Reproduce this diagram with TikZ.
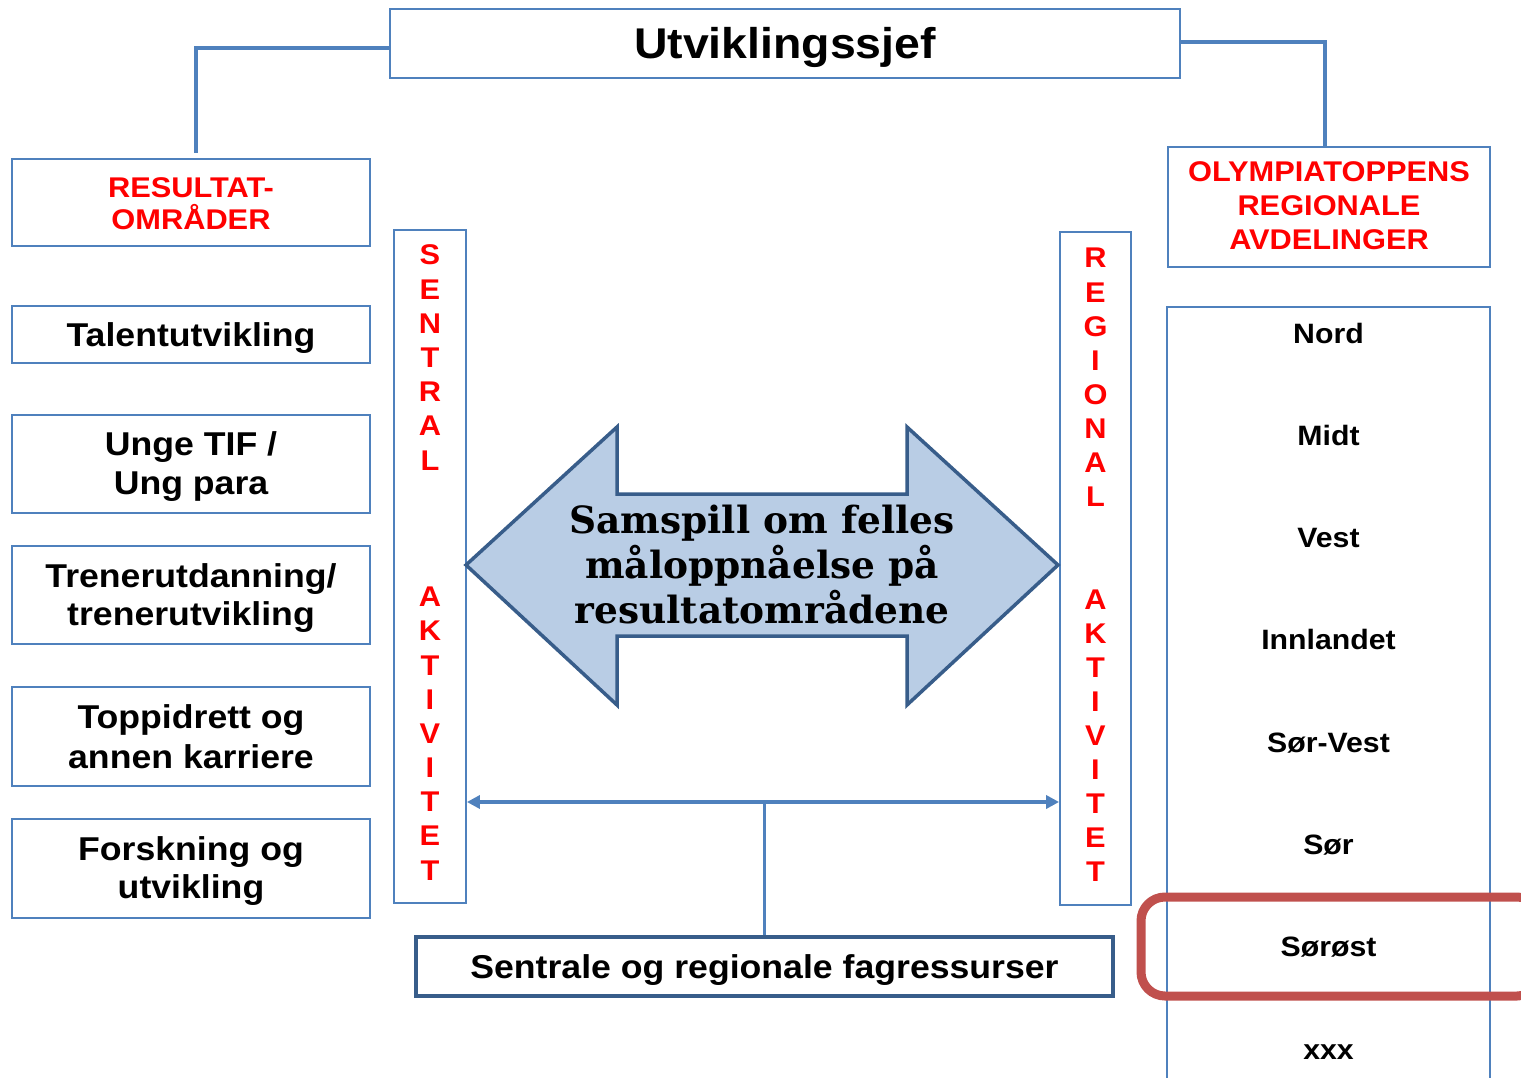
\documentclass[tikz,border=0pt]{standalone}
\usepackage{fontspec}
\newfontfamily\lsans[FakeStretch=1.08]{Liberation Sans}
\newfontfamily\dserif{DejaVu Serif}
\usetikzlibrary{arrows.meta}
\definecolor{obl}{HTML}{4F81BD}
\definecolor{dbl}{HTML}{385D8A}
\definecolor{afill}{HTML}{B9CDE5}
\definecolor{rred}{HTML}{C0504D}
\definecolor{tred}{HTML}{FF0000}
\tikzset{
  box/.style={draw=obl, line width=2.8pt, inner sep=0pt},
  vcol/.style={draw=obl, line width=1.8pt, inner sep=0pt, minimum height=673pt},
  lbl/.style={font=\lsans\bfseries\fontsize{33}{40}\selectfont, text=black, inner sep=0pt, anchor=base},
  bigl/.style={font=\lsans\bfseries\fontsize{43}{50}\selectfont, text=black, inner sep=0pt, anchor=base},
  redl/.style={font=\lsans\bfseries\fontsize{28.5}{32}\selectfont, text=tred, inner sep=0pt, anchor=base},
  regl/.style={font=\lsans\bfseries\fontsize{28}{32}\selectfont, text=black, inner sep=0pt, anchor=base},
  serl/.style={font=\dserif\bfseries\fontsize{37.5}{45}\selectfont, text=black, inner sep=0pt, anchor=base},
  conn/.style={draw=obl, line width=4.5pt},
}
\begin{document}
\begin{tikzpicture}[x=1pt,y=-1pt]
\useasboundingbox (0,0) rectangle (1521,1078);
\clip (0,0) rectangle (1521,1078);

% top box
\node[box, minimum width=790pt, minimum height=69pt] (chief) at (785,43.5) {};
\node[bigl] (chieft) at (785,59) {Utviklingssjef};

% left column
\node[box, minimum width=358pt, minimum height=87pt] (res) at (191,202.5) {};
\node[redl] (res1) at (191,198) {RESULTAT-};
\node[redl] (res2) at (191,230) {OMRÅDER};

\node[box, minimum width=358pt, minimum height=57pt] (tal) at (191,334.5) {};
\node[lbl] (tal1) at (191,346) {Talentutvikling};

\node[box, minimum width=358pt, minimum height=98pt] (ung) at (191,464) {};
\node[lbl] (ung1) at (191,455) {Unge TIF /};
\node[lbl] (ung2) at (191,494) {Ung para};

\node[box, minimum width=358pt, minimum height=98pt] (tre) at (191,595) {};
\node[lbl] (tre1) at (191,587) {Trenerutdanning/};
\node[lbl] (tre2) at (191,625) {trenerutvikling};

\node[box, minimum width=358pt, minimum height=99pt] (topp) at (191,736.5) {};
\node[lbl] (topp1) at (191,728) {Toppidrett og};
\node[lbl] (topp2) at (191,768) {annen karriere};

\node[box, minimum width=358pt, minimum height=99pt] (forsk) at (191,868.5) {};
\node[lbl] (forsk1) at (191,860) {Forskning og};
\node[lbl] (forsk2) at (191,898) {utvikling};

% right column
\node[box, minimum width=322pt, minimum height=120pt] (olym) at (1329,207) {};
\node[redl] (olym1) at (1329,182) {OLYMPIATOPPENS};
\node[redl] (olym2) at (1329,216) {REGIONALE};
\node[redl] (olym3) at (1329,250) {AVDELINGER};

\node[box, line width=2.4pt, minimum width=323pt, minimum height=793pt] (regs) at (1328.5,703.5) {};
\foreach \t [count=\i from 0] in {Nord,Midt,Vest,Innlandet,Sør-Vest,Sør,Sørøst,xxx}
  \node[regl] (reg\i) at (1328.5,{343+102.3*\i}) {\t};

% vertical columns
\node[vcol, minimum width=72pt] (sent) at (430,566.5) {};
\foreach \c [count=\i from 0] in {S,E,N,T,R,A,L}
  \node[redl] (sa\i) at (430,{265+34.17*\i}) {\c};
\foreach \c [count=\i from 10] in {A,K,T,I,V,I,T,E,T}
  \node[redl] (sb\i) at (430,{265+34.17*\i}) {\c};

\node[vcol, minimum width=71pt] (regl) at (1095.5,568.5) {};
\foreach \c [count=\i from 0] in {R,E,G,I,O,N,A,L}
  \node[redl] (ra\i) at (1095.5,{268+34.1*\i}) {\c};
\foreach \c [count=\i from 10] in {A,K,T,I,V,I,T,E,T}
  \node[redl] (rb\i) at (1095.5,{268+34.1*\i}) {\c};

% connectors from top
\draw[conn] ([yshift=-4.5pt]chief.west) -| ([xshift=5pt,yshift=5pt]res.north);
\draw[conn] ([yshift=1.5pt]chief.east) -| ([xshift=-4pt]olym.north);

% big double arrow
\coordinate (atl) at (466,565);
\coordinate (atr) at (1058,565);
\draw[draw=dbl, fill=afill, line width=3.5pt, line join=miter]
  (atl) -- (617,427) -- (617,494) -- (907,494) -- (907,427) -- (atr)
  -- (907,705) -- (907,636) -- (617,636) -- (617,705) -- cycle;
\node[serl] (s1) at (762,533) {Samspill om felles};
\node[serl] (s2) at (762,578) {måloppnåelse på};
\node[serl] (s3) at (762,623) {resultatområdene};

% bottom box and arrows
\node[draw=dbl, line width=4.5pt, inner sep=0pt, minimum width=697pt, minimum height=59pt] (fag) at (764.5,966.5) {};
\node[lbl] (fag1) at (764.5,978) {Sentrale og regionale fagressurser};
\coordinate (mid) at (764.5,802);
\draw[conn, line width=4pt, {Triangle[length=13pt,width=13pt]}-{Triangle[length=13pt,width=13pt]}]
  (sent.east |- mid) -- (regl.west |- mid);
\draw[conn, line width=3.5pt] (mid) -- (fag.north);

% highlight
\node[draw=rred, line width=9pt, rounded corners=24pt, minimum width=400pt, minimum height=99pt] (hl) at (1341,946.5) {};
\end{tikzpicture}
\end{document}
